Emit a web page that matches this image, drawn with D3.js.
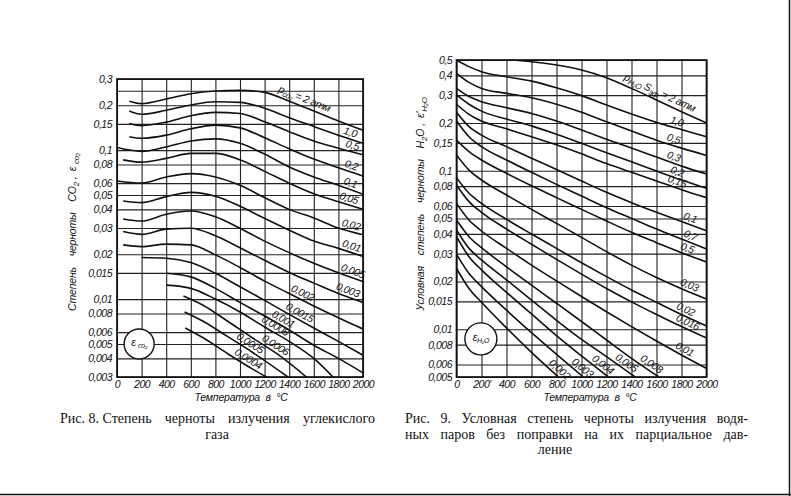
<!DOCTYPE html>
<html>
<head>
<meta charset="utf-8">
<script src="https://cdn.jsdelivr.net/npm/d3@7"></script>
<style>
  body { margin: 0; background: #fff; }
  svg { display: block; }
  .grid line { stroke: #222; stroke-width: 1.1; }
  .axis text { font-family: "Liberation Sans", sans-serif; font-style: italic; font-size: 10.5px; letter-spacing: -0.5px; fill: #111; }
  .lbl { font-family: "Liberation Sans", sans-serif; font-style: italic; font-size: 10.5px; letter-spacing: -0.4px; fill: #111; }
  .title { font-family: "Liberation Sans", sans-serif; font-style: italic; font-size: 10.5px; letter-spacing: -0.2px; fill: #111; white-space: pre; }
  .cap { font-family: "Liberation Serif", "DejaVu Serif", serif; font-size: 14px; fill: #111; }
</style>
</head>
<body>
<svg id="chart" width="791" height="496"></svg>
<script>
// ---- shared x axis ----
const xTicks = [0, 200, 400, 600, 800, 1000, 1200, 1400, 1600, 1800, 2000];
const xTextL = ["0", "200", "400", "600", "800", "1000", "1200", "1400", "1600", "1800", "2000"];
const xTextR = ["0", "200'", "400", "600", "800", "1000", "1200", "1400", "1600", "1800", "2000"];

// ---- Рис. 8: CO2 ----
const co2YTicks = [0.3, 0.2, 0.15, 0.1, 0.08, 0.06, 0.05, 0.04, 0.03, 0.02, 0.015, 0.01, 0.008, 0.006, 0.005, 0.004, 0.003];
const co2YText = ["0,3", "0,2", "0,15", "0,1", "0,08", "0,06", "0,05", "0,04", "0,03", "0,02", "0,015", "0,01", "0,008", "0,006", "0,005", "0,004", "0,003"];
const co2Extra = [0.25];
const co2Text = ["2", "1,0", "0,5", "0,2", "0,1", "0,05", "0,02", "0,01", "0,005", "0,003", "0,002", "0,0015", "0,001", "0,0008", "0,0006", "0,0005", "0,0004"];
const tA = [100, 200, 400, 600, 800, 1000, 1200, 1400, 1600, 1800, 2000];
const tB = [0, 200, 400, 600, 800, 1000, 1200, 1400, 1600, 1800, 2000];
const tC = [50, 200, 400, 600, 800, 1000, 1200, 1400, 1600, 1800, 2000];
const co2T = [
  tA, tA, tA, tA, tB, tC, tB, tC, tC, tC, tC,
  [200, 400, 600, 800, 1000, 1200, 1400, 1600, 1800, 2000],
  [400, 600, 800, 1000, 1200, 1400, 1600, 1800, 2000],
  [400, 600, 800, 1000, 1200, 1400, 1600, 1756],
  [540, 700, 900, 1100, 1300, 1540],
  [550, 700, 900, 1100, 1390],
  [555, 700, 900, 1100, 1215]
];
const co2E = [
  [0.213, 0.205, 0.220, 0.239, 0.249, 0.252, 0.244, 0.213, 0.183, 0.157, 0.136],
  [0.183, 0.174, 0.185, 0.201, 0.211, 0.209, 0.191, 0.165, 0.144, 0.126, 0.111],
  [0.151, 0.146, 0.154, 0.170, 0.179, 0.176, 0.155, 0.133, 0.115, 0.103, 0.093],
  [0.123, 0.120, 0.126, 0.139, 0.147, 0.141, 0.121, 0.102, 0.087, 0.076, 0.067],
  [0.104, 0.098, 0.105, 0.115, 0.119, 0.111, 0.094, 0.077, 0.066, 0.058, 0.0505],
  [0.086, 0.083, 0.088, 0.095, 0.095, 0.086, 0.072, 0.060, 0.051, 0.045, 0.040],
  [0.062, 0.060, 0.066, 0.0695, 0.066, 0.058, 0.048, 0.040, 0.035, 0.030, 0.027],
  [0.0455, 0.0444, 0.0487, 0.052, 0.049, 0.042, 0.0348, 0.029, 0.0245, 0.0219, 0.0193],
  [0.0345, 0.0334, 0.0371, 0.039, 0.0357, 0.0299, 0.0245, 0.0205, 0.0174, 0.015, 0.0131],
  [0.0284, 0.0272, 0.0295, 0.0299, 0.0266, 0.0221, 0.0182, 0.0151, 0.0128, 0.0109, 0.0095],
  [0.0231, 0.0225, 0.0234, 0.0231, 0.0198, 0.0163, 0.0132, 0.0109, 0.0090, 0.0075, 0.0063],
  [0.019, 0.0188, 0.0176, 0.0149, 0.0121, 0.0098, 0.0079, 0.0064, 0.0052, 0.0042],
  [0.0149, 0.0141, 0.0118, 0.0095, 0.0077, 0.0062, 0.0049, 0.0040, 0.0032],
  [0.0124, 0.0118, 0.0100, 0.0082, 0.0065, 0.0052, 0.0040, 0.003],
  [0.0105, 0.0091, 0.0071, 0.0055, 0.0043, 0.003],
  [0.0082, 0.0071, 0.0056, 0.0044, 0.003],
  [0.0064, 0.0055, 0.0043, 0.0034, 0.003]
];

// ---- Рис. 9: H2O ----
const h2oYTicks = [0.5, 0.4, 0.3, 0.2, 0.15, 0.1, 0.08, 0.06, 0.05, 0.04, 0.03, 0.02, 0.015, 0.01, 0.008, 0.006, 0.005];
const h2oYText = ["0,5", "0,4", "0,3", "0,2", "0,15", "0,1", "0,08", "0,06", "0,05", "0,04", "0,03", "0,02", "0,015", "0,01", "0,008", "0,006", "0,005"];
const h2oText = ["2", "1,0", "0,5", "0,3", "0,2", "0,15", "0,1", "0,7", "0,5", "0,03", "0,02", "0,016", "0,01", "0,008", "0,005", "0,004", "0,003", "0,002"];
const tF = [0, 100, 200, 400, 600, 800, 1000, 1200, 1400, 1600, 1800, 2000];
const h2oT = [
  [450, 600, 800, 1000, 1200, 1400, 1600, 1800, 2000],
  tF, tF, tF, tF, tF, tF, tF, tF, tF, tF, tF, tF,
  [0, 100, 200, 400, 600, 800, 1000, 1200, 1400, 1620],
  [0, 100, 200, 400, 600, 800, 1000, 1200, 1430],
  [0, 100, 200, 400, 600, 800, 1000, 1215],
  [0, 100, 200, 400, 600, 800, 1015],
  [0, 100, 200, 400, 600, 815]
];
const h2oE = [
  [0.5, 0.488, 0.465, 0.433, 0.387, 0.331, 0.28, 0.236, 0.2],
  [0.5, 0.454, 0.422, 0.392, 0.368, 0.334, 0.298, 0.26, 0.228, 0.202, 0.182, 0.164],
  [0.412, 0.361, 0.331, 0.308, 0.289, 0.263, 0.234, 0.204, 0.178, 0.156, 0.139, 0.125],
  [0.331, 0.294, 0.273, 0.250, 0.230, 0.206, 0.181, 0.158, 0.139, 0.122, 0.107, 0.0954],
  [0.301, 0.263, 0.238, 0.212, 0.192, 0.170, 0.149, 0.130, 0.114, 0.0997, 0.0875, 0.0775],
  [0.263, 0.227, 0.206, 0.184, 0.164, 0.146, 0.128, 0.111, 0.0978, 0.0862, 0.076, 0.0677],
  [0.234, 0.190, 0.168, 0.142, 0.120, 0.102, 0.0862, 0.0731, 0.0629, 0.0547, 0.0478, 0.0419],
  [0.206, 0.164, 0.142, 0.117, 0.0978, 0.0821, 0.0693, 0.0585, 0.0501, 0.0429, 0.0371, 0.0321],
  [0.156, 0.132, 0.117, 0.0964, 0.0805, 0.0677, 0.0571, 0.0482, 0.0409, 0.0352, 0.0304, 0.0266],
  [0.126, 0.101, 0.0875, 0.0704, 0.0571, 0.0466, 0.038, 0.0309, 0.0254, 0.0212, 0.018, 0.0155],
  [0.0905, 0.0721, 0.0623, 0.0494, 0.0399, 0.0324, 0.0263, 0.0215, 0.0177, 0.0148, 0.0124, 0.0105],
  [0.0814, 0.0639, 0.0547, 0.0429, 0.0344, 0.0276, 0.0223, 0.0181, 0.0149, 0.0124, 0.0104, 0.0088],
  [0.0623, 0.0489, 0.0417, 0.0324, 0.0254, 0.0202, 0.0161, 0.0129, 0.0104, 0.00844, 0.00689, 0.00567],
  [0.0489, 0.0384, 0.0327, 0.0248, 0.019, 0.0146, 0.0112, 0.00856, 0.00656, 0.005],
  [0.0423, 0.0324, 0.0274, 0.0205, 0.0153, 0.0114, 0.00864, 0.00672, 0.005],
  [0.0384, 0.0287, 0.0237, 0.0171, 0.0125, 0.00912, 0.00679, 0.005],
  [0.0297, 0.0225, 0.0186, 0.0132, 0.00952, 0.00695, 0.005],
  [0.0242, 0.0181, 0.0148, 0.0102, 0.00715, 0.005]
];

// ---- captions ----
const cap8 = [["Рис. 8. Степень", "черноты", "излучения", "углекислого"]];
const cap8Last = "газа";
const cap9 = [["Рис.", "9.", "Условная", "степень", "черноты", "излучения", "водя-"],
              ["ных", "паров", "без", "поправки", "на", "их", "парциальное", "дав-"]];
const cap9Last = "ление";

// where the curve labels sit (temperature along each curve)
const co2LabelT = [1500, 1880, 1900, 1890, 1880, 1870, 1890, 1890, 1900, 1860, 1485, 1460, 1325, 1260, 1260, 1055, 1040];
const h2oLabelT = [1600, 1748, 1721, 1721, 1748, 1748, 1852, 1852, 1828, 1844, 1812, 1828, 1800, 1530, 1330, 1140, 975, 790];

const svg = d3.select("#chart");
const ink = "#111";

// text with subscripts
function rich(sel, parts, subSize) {
  parts.forEach((p, i) => {
    const ts = sel.append("tspan").text(p.t);
    if (p.sub) ts.attr("font-size", subSize).attr("dy", 2.5);
    else if (i > 0 && parts[i - 1].sub) ts.attr("dy", -2.5);
  });
}

// log-linear interpolation on one curve
function valueAt(ts, es, t) {
  t = Math.max(ts[0], Math.min(ts[ts.length - 1], t));
  let j = 0;
  while (j < ts.length - 2 && t > ts[j + 1]) j++;
  const f = (t - ts[j]) / (ts[j + 1] - ts[j]);
  return Math.exp(Math.log(es[j]) + f * (Math.log(es[j + 1]) - Math.log(es[j])));
}

function drawPanel(o) {
  const x = d3.scaleLinear().domain([0, 2000]).range([o.left, o.right]);
  const y = d3.scaleLog().domain([o.yMin, o.yMax]).range([o.bottom, o.top]);
  const w = o.right - o.left, h = o.bottom - o.top;
  const g = svg.append("g");

  // grid
  g.append("g").attr("class", "grid")
    .attr("transform", `translate(${o.left},0)`)
    .call(d3.axisLeft(y).tickValues(o.yTicks.concat(o.extra)).tickSize(-w).tickFormat(""))
    .call(a => a.select(".domain").remove());
  g.append("g").attr("class", "grid")
    .attr("transform", `translate(0,${o.top})`)
    .call(d3.axisBottom(x).tickValues(xTicks).tickSize(h).tickFormat(""))
    .call(a => a.select(".domain").remove());
  g.append("rect")
    .attr("x", o.left).attr("y", o.top).attr("width", w).attr("height", h)
    .attr("fill", "none").attr("stroke", ink).attr("stroke-width", 1.7);

  // tick labels
  g.append("g").attr("class", "axis")
    .attr("transform", `translate(${o.left},0)`)
    .call(d3.axisLeft(y).tickValues(o.yTicks).tickSize(0).tickPadding(o.yPad)
      .tickFormat(d => o.yText[o.yTicks.indexOf(d)]))
    .call(a => a.select(".domain").remove());
  g.append("g").attr("class", "axis")
    .attr("transform", `translate(0,${o.bottom})`)
    .call(d3.axisBottom(x).tickValues(xTicks).tickSize(0).tickPadding(4)
      .tickFormat(d => o.xText[xTicks.indexOf(d)]))
    .call(a => a.select(".domain").remove());

  // curves
  svg.append("clipPath").attr("id", o.id + "-clip")
    .append("rect").attr("x", o.left).attr("y", o.top).attr("width", w).attr("height", h);
  const line = d3.line().x(d => x(d[0])).y(d => y(d[1])).curve(d3.curveMonotoneX);
  const cg = g.append("g").attr("clip-path", `url(#${o.id}-clip)`);
  o.T.forEach((ts, i) => {
    cg.append("path")
      .attr("d", line(ts.map((t, j) => [t, o.E[i][j]])))
      .attr("fill", "none").attr("stroke", ink).attr("stroke-width", 1.6);
  });

  // curve labels, rotated along the curve
  o.T.forEach((ts, i) => {
    const t = o.labelT[i];
    const ta = Math.max(ts[0], t - 40), tb = Math.min(ts[ts.length - 1], t + 40);
    const ang = Math.atan2(y(valueAt(ts, o.E[i], tb)) - y(valueAt(ts, o.E[i], ta)), x(tb) - x(ta)) * 180 / Math.PI;
    const txt = g.append("text").attr("class", "lbl")
      .attr("transform", `translate(${x(t)},${y(valueAt(ts, o.E[i], t))}) rotate(${ang})`)
      .attr("y", i === 0 ? -4.5 : -3).attr("text-anchor", "middle");
    if (i === 0) { txt.attr("font-size", 11); rich(txt, o.topLabel, 8); }
    else txt.text(o.text[i]);
  });

  // circle badge
  g.append("circle").attr("cx", x(o.badge[0])).attr("cy", y(o.badge[1])).attr("r", o.badgeR)
    .attr("fill", "#fff").attr("stroke", ink).attr("stroke-width", 1.4);
  const bt = g.append("text").attr("class", "lbl").attr("text-anchor", "middle")
    .attr("x", x(o.badge[0])).attr("y", y(o.badge[1]) + 2);
  rich(bt, o.badgeText, 7);

  // axis titles
  g.append("text").attr("class", "title").attr("text-anchor", "middle")
    .attr("x", o.xTitle[0]).attr("y", o.xTitle[1]).text("Температура  в  °C");
  const yt = g.append("text").attr("class", "title").attr("text-anchor", "middle")
    .attr("transform", `translate(${o.yTitle[0]},${o.yTitle[1]}) rotate(-90)`);
  rich(yt, o.yTitleParts, 8);
}

drawPanel({
  id: "co2", left: 117, right: 363, top: 79, bottom: 377, yMin: 0.003, yMax: 0.3, yPad: 5,
  yTicks: co2YTicks, yText: co2YText, extra: co2Extra, xText: xTextL,
  T: co2T, E: co2E, text: co2Text, labelT: co2LabelT,
  topLabel: [{t: "p"}, {t: "co₂", sub: true}, {t: " = 2 атм"}],
  badge: [180, 0.005], badgeR: 15, badgeText: [{t: "ε "}, {t: "co₂", sub: true}],
  xTitle: [241, 401],
  yTitle: [76, 232],
  yTitleParts: [{t: "Степень    черноты    CO"}, {t: "2", sub: true}, {t: " ,  ε "}, {t: "co₂", sub: true}]
});

drawPanel({
  id: "h2o", left: 456.5, right: 706.5, top: 60, bottom: 377, yMin: 0.005, yMax: 0.5, yPad: 4.5,
  yTicks: h2oYTicks, yText: h2oYText, extra: [], xText: xTextR,
  T: h2oT, E: h2oE, text: h2oText, labelT: h2oLabelT,
  topLabel: [{t: "p"}, {t: "H₂O", sub: true}, {t: " S"}, {t: "эф", sub: true}, {t: " = 2 атм"}],
  badge: [195, 0.0087], badgeR: 16, badgeText: [{t: "ε"}, {t: "H₂O", sub: true}],
  xTitle: [590, 401],
  yTitle: [424, 204],
  yTitleParts: [{t: "Условная    степень    черноты    H"}, {t: "2", sub: true}, {t: "O ,  ε'"}, {t: "H₂O", sub: true}]
});

// captions, justified like the printed page
function justify(words, x0, x1, yBase) {
  const nodes = words.map(wd => svg.append("text").attr("class", "cap").attr("y", yBase).text(wd));
  const widths = nodes.map(n => n.node().getComputedTextLength());
  const gap = (x1 - x0 - d3.sum(widths)) / (words.length - 1);
  let cx = x0;
  nodes.forEach((n, i) => { n.attr("x", cx); cx += widths[i] + gap; });
}
cap8.forEach((ln, i) => justify(ln, 60, 375, 423 + i * 15.5));
svg.append("text").attr("class", "cap").attr("text-anchor", "middle").attr("x", 217).attr("y", 438.5).text(cap8Last);
cap9.forEach((ln, i) => justify(ln, 405, 748, 423 + i * 15.5));
svg.append("text").attr("class", "cap").attr("text-anchor", "middle").attr("x", 555).attr("y", 454).text(cap9Last);

// scanned page edges
svg.append("line").attr("x1", 789.5).attr("x2", 789.5).attr("y1", 0).attr("y2", 496).attr("stroke", ink).attr("stroke-width", 1.5);
svg.append("line").attr("x1", 0).attr("x2", 791).attr("y1", 494.5).attr("y2", 494.5).attr("stroke", ink).attr("stroke-width", 1.5);
</script>
</body>
</html>
